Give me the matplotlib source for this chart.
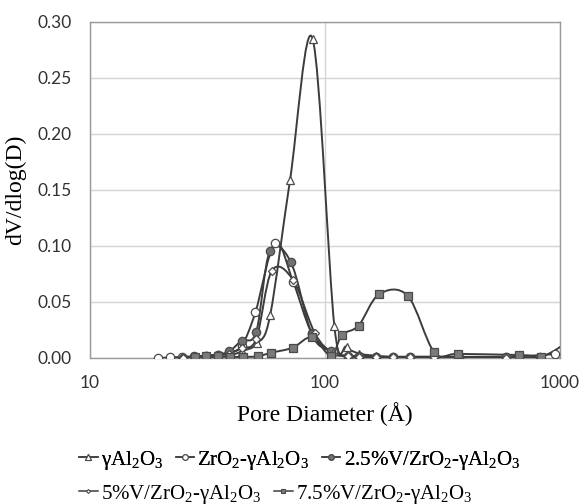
import numpy as np
import matplotlib
matplotlib.use("Agg")
import matplotlib.pyplot as plt
from matplotlib.path import Path
from matplotlib.patches import PathPatch
from matplotlib.lines import Line2D

plt.rcParams['mathtext.fontset'] = 'custom'
plt.rcParams['mathtext.rm'] = 'Liberation Serif'
plt.rcParams['mathtext.it'] = 'Liberation Serif:italic'

# pore diameter (A) and dV/dlog(D)
d_al = [27.9, 31.3, 35.1, 39.2, 44.2, 51.5, 58.4, 71.0, 88.6, 109.6, 123.6, 140, 165, 195, 230, 290, 370]
v_al = [0.0, 0.0005, 0.001, 0.002, 0.006, 0.013, 0.038, 0.159, 0.285, 0.0286, 0.010, 0.004, 0.002, 0.001, 0.001, 0.001, 0.001]

d_zr = [19.4, 22.0, 24.7, 27.6, 31.3, 35.1, 39.2, 44.2, 50.6, 61.3, 73.2, 88.0, 108, 125, 140, 165, 195, 230, 290, 370, 590, 950]
v_zr = [0.0, 0.0005, 0.001, 0.0015, 0.002, 0.003, 0.005, 0.011, 0.041, 0.103, 0.068, 0.022, 0.005, 0.002, 0.002, 0.001, 0.001, 0.001, 0.001, 0.001, 0.001, 0.0035]

d_v25 = [24.9, 27.9, 31.3, 35.1, 39.2, 44.2, 51.0, 58.3, 71.6, 88.0, 105.7, 125, 140, 165, 195, 230, 290, 370, 590, 822, 1150]
v_v25 = [0.0, 0.001, 0.002, 0.003, 0.006, 0.0155, 0.0235, 0.0955, 0.0855, 0.021, 0.006, 0.001, 0.001, 0.001, 0.001, 0.001, 0.001, 0.001, 0.001, 0.0005, 0.018]

d_v5 = [24.9, 27.9, 31.3, 35.1, 39.2, 44.2, 51.0, 59.3, 73.0, 90.6, 108, 125, 140, 165, 195, 230, 290, 370, 588, 830]
v_v5 = [0.0, 0.001, 0.002, 0.003, 0.004, 0.009, 0.017, 0.0777, 0.070, 0.022, 0.004, 0.002, 0.001, 0.001, 0.001, 0.001, 0.001, 0.001, 0.0003, 0.0005]

d_v75 = [28.0, 31.3, 35.1, 39.5, 44.8, 51.8, 59.0, 72.9, 88.0, 106.0, 118.0, 139, 170, 225, 292, 368, 670, 834]
v_v75 = [0.0005, 0.0015, 0.0015, 0.001, 0.001, 0.0015, 0.0047, 0.0092, 0.0185, 0.002, 0.0205, 0.029, 0.057, 0.0555, 0.005, 0.0037, 0.0027, 0.0008]

labels = [u'γAl$_2$O$_3$', u'ZrO$_2$-γAl$_2$O$_3$', u'2.5%V/ZrO$_2$-γAl$_2$O$_3$',
          u'5%V/ZrO$_2$-γAl$_2$O$_3$', u'7.5%V/ZrO$_2$-γAl$_2$O$_3$']

line_c = '#3c3c3c'


def smooth_path(d, v):
    # excel-like smoothed line: cubic bezier, control points from neighbours (in log-x)
    x = np.log10(d)
    y = np.array(v, dtype=float)
    n = len(x)
    verts = [(d[0], y[0])]
    codes = [Path.MOVETO]
    for i in range(n - 1):
        i0 = max(i - 1, 0)
        i3 = min(i + 2, n - 1)
        c1x = x[i] + (x[i + 1] - x[i0]) / 6.0
        c1y = y[i] + (y[i + 1] - y[i0]) / 6.0
        c2x = x[i + 1] - (x[i3] - x[i]) / 6.0
        c2y = y[i + 1] - (y[i3] - y[i]) / 6.0
        verts += [(10 ** c1x, c1y), (10 ** c2x, c2y), (d[i + 1], y[i + 1])]
        codes += [Path.CURVE4] * 3
    return Path(verts, codes)


fig = plt.figure(figsize=(5.82, 5.04), dpi=100)
ax = fig.add_axes([90 / 582, 1 - 358 / 504, 470 / 582, 336 / 504])
ax.set_xscale('log')
ax.set_xlim(10, 1000)
ax.set_ylim(0, 0.30)

series = [
    (d_al, v_al, '^', 'white', 6),
    (d_zr, v_zr, 'o', 'white', 6),
    (d_v25, v_v25, 'o', '#707070', 6),
    (d_v5, v_v5, 'D', 'white', 4),
    (d_v75, v_v75, 's', '#7a7a7a', 5.5),
]

handles = []
for (d, v, m, fc, ms), lab in zip(series, labels):
    patch = PathPatch(smooth_path(d, v), facecolor='none', edgecolor=line_c, lw=1.4, zorder=3)
    ax.add_patch(patch)
    patch.set_clip_path(ax.patch)
    ax.plot(d, v, ls='none', marker=m, ms=ms, mfc=fc, mec='#4a4a4a', mew=0.9, zorder=4, clip_on=True)
    handles.append(Line2D([], [], color=line_c, lw=1.1, marker=m, ms=ms - 2, mfc=fc, mec='#4a4a4a', mew=0.8))

ax.set_yticks(np.arange(0, 0.301, 0.05))
ax.set_yticklabels(['%.2f' % t for t in np.arange(0, 0.301, 0.05)])
ax.set_xticks([10, 100, 1000])
ax.set_xticklabels(['10', '100', '1000'])
ax.minorticks_off()
ax.tick_params(length=0, labelsize=12.5, labelcolor='#333333')
ax.tick_params(axis='y', pad=13)
ax.tick_params(axis='x', pad=12)
for lab in ax.get_xticklabels() + ax.get_yticklabels():
    lab.set_fontfamily('Lato')

ax.grid(True, which='major', color='#d4d4d4', lw=1.0, zorder=0)
ax.set_axisbelow(True)
for s in ax.spines.values():
    s.set_color('#9a9a9a')
    s.set_linewidth(1.0)

ax.set_xlabel(u'Pore Diameter (Å)', family='Liberation Serif', fontsize=17, labelpad=8)
ax.set_ylabel('dV/dlog(D)', family='Liberation Serif', fontsize=17, labelpad=8)

leg_kw = dict(frameon=False, prop={'family': 'Liberation Serif', 'size': 15},
              handlelength=0.9, handletextpad=0.15, columnspacing=0.6, borderaxespad=0, borderpad=0)
leg1 = fig.legend(handles[:3], labels[:3], loc='center left', ncol=3,
                  bbox_to_anchor=(79 / 582, 1 - 460 / 504), **leg_kw)
fig.add_artist(leg1)
fig.legend(handles[3:], labels[3:], loc='center left', ncol=2,
           bbox_to_anchor=(79 / 582, 1 - 494 / 504), **leg_kw)

fig.savefig('out.png', dpi=100)
